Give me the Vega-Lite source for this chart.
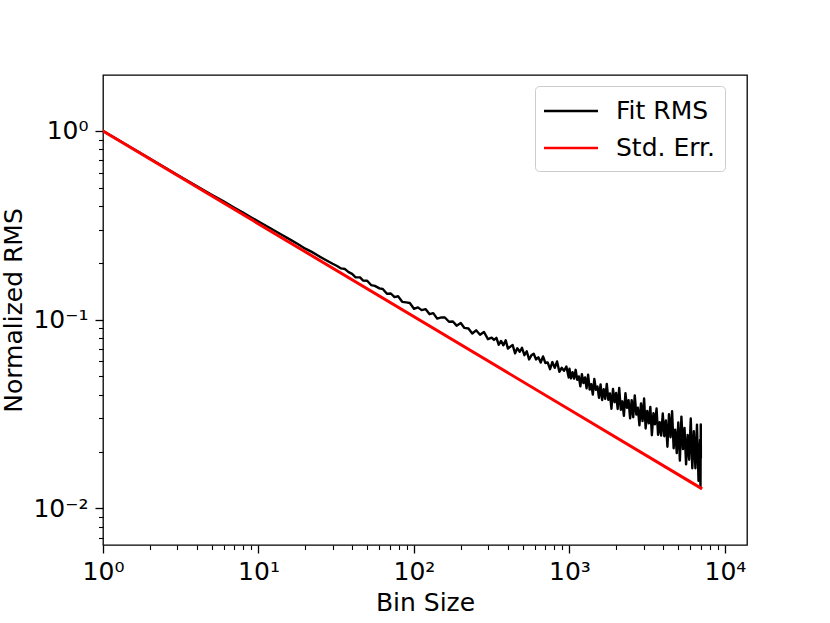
{
  "$schema": "https://vega.github.io/schema/vega-lite/v6.json",
  "width": 644,
  "height": 470,
  "autosize": {"type": "none"},
  "padding": {"left": 103, "top": 75, "right": 83, "bottom": 78},
  "background": "white",
  "config": {
    "view": {"stroke": "#000000", "strokeWidth": 1.3},
    "font": "DejaVu Sans",
    "legend": {
      "strokeColor": "#cccccc",
      "fillColor": "rgba(255,255,255,0.8)",
      "cornerRadius": 4,
      "padding": 10
    }
  },
  "datasets": {
    "fit": [
      {"x": 1, "y": 1.0}, {"x": 2, "y": 0.714}, {"x": 3, "y": 0.586}, {"x": 4, "y": 0.51},
      {"x": 5, "y": 0.459}, {"x": 6, "y": 0.422}, {"x": 7, "y": 0.392}, {"x": 8, "y": 0.368},
      {"x": 9, "y": 0.348}, {"x": 10, "y": 0.331}, {"x": 12, "y": 0.304}, {"x": 14, "y": 0.2825},
      {"x": 16, "y": 0.2655}, {"x": 18, "y": 0.251}, {"x": 20, "y": 0.2377}, {"x": 22, "y": 0.2286},
      {"x": 25, "y": 0.215}, {"x": 28, "y": 0.204}, {"x": 30, "y": 0.1977},
      {"x": 32, "y": 0.1925}, {"x": 34, "y": 0.1868}, {"x": 36, "y": 0.1854}, {"x": 38, "y": 0.1785},
      {"x": 40, "y": 0.1748}, {"x": 42, "y": 0.1679}, {"x": 45, "y": 0.1675}, {"x": 47, "y": 0.1612},
      {"x": 50, "y": 0.1607}, {"x": 53, "y": 0.1525}, {"x": 56, "y": 0.151}, {"x": 60, "y": 0.1465},
      {"x": 63, "y": 0.1454}, {"x": 67, "y": 0.1372}, {"x": 71, "y": 0.1376}, {"x": 75, "y": 0.1316},
      {"x": 79, "y": 0.133}, {"x": 84, "y": 0.1243}, {"x": 89, "y": 0.1234}, {"x": 94, "y": 0.1225},
      {"x": 100, "y": 0.1142}, {"x": 106, "y": 0.1162}, {"x": 112, "y": 0.1123}, {"x": 119, "y": 0.1136},
      {"x": 126, "y": 0.1069}, {"x": 133, "y": 0.1083}, {"x": 141, "y": 0.1013}, {"x": 150, "y": 0.1028},
      {"x": 158, "y": 0.1027}, {"x": 168, "y": 0.0974}, {"x": 178, "y": 0.0977}, {"x": 188, "y": 0.0929},
      {"x": 200, "y": 0.0959}, {"x": 211, "y": 0.0904}, {"x": 224, "y": 0.0897}, {"x": 237, "y": 0.0844},
      {"x": 251, "y": 0.0878}, {"x": 266, "y": 0.0831}, {"x": 282, "y": 0.086}, {"x": 299, "y": 0.0788},
      {"x": 316, "y": 0.0802}, {"x": 327, "y": 0.0781}, {"x": 339, "y": 0.0801}, {"x": 351, "y": 0.0736},
      {"x": 363, "y": 0.0771}, {"x": 376, "y": 0.0731}, {"x": 389, "y": 0.0777}, {"x": 402, "y": 0.0702},
      {"x": 417, "y": 0.0719}, {"x": 431, "y": 0.0734}, {"x": 447, "y": 0.0663}, {"x": 462, "y": 0.0705},
      {"x": 479, "y": 0.0676}, {"x": 495, "y": 0.0709}, {"x": 513, "y": 0.0648}, {"x": 531, "y": 0.068},
      {"x": 550, "y": 0.0615}, {"x": 569, "y": 0.0647}, {"x": 589, "y": 0.066}, {"x": 610, "y": 0.0615},
      {"x": 631, "y": 0.0632}, {"x": 653, "y": 0.0592}, {"x": 676, "y": 0.0638}, {"x": 700, "y": 0.0589},
      {"x": 724, "y": 0.0593}, {"x": 750, "y": 0.0546}, {"x": 776, "y": 0.0596}, {"x": 804, "y": 0.0555},
      {"x": 832, "y": 0.06}, {"x": 861, "y": 0.0529}, {"x": 891, "y": 0.0555}, {"x": 923, "y": 0.0536},
      {"x": 955, "y": 0.0564}, {"x": 989, "y": 0.0494}, {"x": 1000, "y": 0.0549}, {"x": 1023, "y": 0.0488},
      {"x": 1047, "y": 0.0526}, {"x": 1072, "y": 0.0487}, {"x": 1096, "y": 0.0542}, {"x": 1122, "y": 0.048},
      {"x": 1148, "y": 0.05}, {"x": 1175, "y": 0.0443}, {"x": 1202, "y": 0.0514}, {"x": 1230, "y": 0.0461},
      {"x": 1259, "y": 0.0494}, {"x": 1288, "y": 0.0432}, {"x": 1318, "y": 0.0511}, {"x": 1349, "y": 0.0426},
      {"x": 1380, "y": 0.0455}, {"x": 1413, "y": 0.0401}, {"x": 1445, "y": 0.0485}, {"x": 1479, "y": 0.0425},
      {"x": 1514, "y": 0.0442}, {"x": 1549, "y": 0.0385}, {"x": 1585, "y": 0.0454}, {"x": 1622, "y": 0.0375},
      {"x": 1660, "y": 0.0428}, {"x": 1698, "y": 0.038}, {"x": 1738, "y": 0.0456}, {"x": 1778, "y": 0.0376},
      {"x": 1820, "y": 0.0406}, {"x": 1862, "y": 0.0337}, {"x": 1905, "y": 0.0429}, {"x": 1950, "y": 0.0365},
      {"x": 1995, "y": 0.0409}, {"x": 2042, "y": 0.0336}, {"x": 2089, "y": 0.0435}, {"x": 2138, "y": 0.0333},
      {"x": 2188, "y": 0.0369}, {"x": 2239, "y": 0.0309}, {"x": 2291, "y": 0.0408}, {"x": 2344, "y": 0.0341},
      {"x": 2399, "y": 0.0374}, {"x": 2455, "y": 0.03}, {"x": 2512, "y": 0.0374}, {"x": 2570, "y": 0.0304},
      {"x": 2630, "y": 0.0397}, {"x": 2692, "y": 0.0314}, {"x": 2754, "y": 0.0341}, {"x": 2818, "y": 0.0275},
      {"x": 2884, "y": 0.036}, {"x": 2951, "y": 0.029}, {"x": 3020, "y": 0.0382}, {"x": 3090, "y": 0.0265},
      {"x": 3162, "y": 0.0328}, {"x": 3236, "y": 0.0282}, {"x": 3311, "y": 0.0345}, {"x": 3388, "y": 0.0244},
      {"x": 3467, "y": 0.0319}, {"x": 3548, "y": 0.0279}, {"x": 3631, "y": 0.0338}, {"x": 3715, "y": 0.0245},
      {"x": 3802, "y": 0.0286}, {"x": 3890, "y": 0.0243}, {"x": 3981, "y": 0.0318}, {"x": 4074, "y": 0.0241},
      {"x": 4169, "y": 0.0292}, {"x": 4266, "y": 0.0212}, {"x": 4365, "y": 0.0315}, {"x": 4467, "y": 0.0238},
      {"x": 4571, "y": 0.0327}, {"x": 4677, "y": 0.0208}, {"x": 4786, "y": 0.0261}, {"x": 4898, "y": 0.0196},
      {"x": 5012, "y": 0.0285}, {"x": 5129, "y": 0.0179}, {"x": 5248, "y": 0.0306}, {"x": 5370, "y": 0.0206},
      {"x": 5495, "y": 0.0267}, {"x": 5623, "y": 0.0171}, {"x": 5754, "y": 0.0245}, {"x": 5888, "y": 0.0181},
      {"x": 6026, "y": 0.0299}, {"x": 6166, "y": 0.0163}, {"x": 6310, "y": 0.0256}, {"x": 6457, "y": 0.0163},
      {"x": 6607, "y": 0.0277}, {"x": 6761, "y": 0.014}, {"x": 6918, "y": 0.023}, {"x": 6960, "y": 0.0128},
      {"x": 6990, "y": 0.0278}, {"x": 7000, "y": 0.0184}
    ],
    "err": [
      {"x": 1, "y": 1.0},
      {"x": 7000, "y": 0.0128}
    ]
  },
  "resolve": {"axis": {"x": "independent", "y": "independent"}},
  "layer": [
    {
      "data": {"name": "fit"},
      "mark": {"type": "line", "strokeWidth": 2.4, "strokeJoin": "round", "clip": true},
      "encoding": {
        "x": {
          "field": "x",
          "type": "quantitative",
          "scale": {"type": "log", "domain": [1, 13860], "nice": false},
          "axis": {
            "orient": "bottom",
            "values": [1, 10, 100, 1000, 10000],
            "labelExpr": "datum.value == 1 ? '10⁰' : datum.value == 10 ? '10¹' : datum.value == 100 ? '10²' : datum.value == 1000 ? '10³' : '10⁴'",
            "domain": false,
            "grid": false,
            "tickSize": 8,
            "tickWidth": 1.3,
            "tickColor": "#000000",
            "labelFont": "DejaVu Sans",
            "labelFontSize": 25,
            "labelColor": "#000000",
            "labelBaseline": "alphabetic",
            "labelPadding": 26,
            "labelFlush": false,
            "labelOverlap": false,
            "title": "Bin Size",
            "titleFont": "DejaVu Sans",
            "titleFontSize": 25,
            "titleFontWeight": "normal",
            "titleColor": "#000000",
            "titleBaseline": "alphabetic",
            "titleY": 65
          }
        },
        "y": {
          "field": "y",
          "type": "quantitative",
          "scale": {"type": "log", "domain": [0.00639, 1.98], "nice": false},
          "axis": {
            "orient": "left",
            "values": [0.01, 0.1, 1],
            "labelExpr": "datum.value == 1 ? '10⁰' : datum.value == 0.1 ? '10⁻¹' : '10⁻²'",
            "domain": false,
            "grid": false,
            "tickSize": 8,
            "tickWidth": 1.3,
            "tickColor": "#000000",
            "labelFont": "DejaVu Sans",
            "labelFontSize": 25,
            "labelColor": "#000000",
            "labelBaseline": "middle",
            "labelPadding": 7,
            "labelFlush": false,
            "labelOverlap": false,
            "title": "Normalized RMS",
            "titleFont": "DejaVu Sans",
            "titleFontSize": 25,
            "titleFontWeight": "normal",
            "titleColor": "#000000",
            "titleAngle": 270,
            "titleAlign": "center",
            "titleBaseline": "alphabetic",
            "titleX": -82,
            "titleY": 235
          }
        },
        "color": {
          "datum": "Fit RMS",
          "type": "nominal",
          "scale": {"domain": ["Fit RMS", "Std. Err."], "range": ["#000000", "#ff0000"]},
          "legend": {
            "orient": "none",
            "legendX": 432,
            "legendY": 11,
            "title": null,
            "symbolType": "M-2,0H2",
            "symbolSize": 729,
            "symbolStrokeWidth": 2.5,
            "symbolOffset": 11,
            "labelOffset": 30,
            "labelFont": "DejaVu Sans",
            "labelFontSize": 25,
            "labelColor": "#000000",
            "labelLimit": 300,
            "rowPadding": 9
          }
        }
      }
    },
    {
      "data": {"name": "err"},
      "mark": {"type": "line", "strokeWidth": 3, "strokeCap": "square", "clip": true},
      "encoding": {
        "x": {
          "field": "x",
          "type": "quantitative",
          "scale": {"type": "log", "domain": [1, 13860], "nice": false},
          "axis": {
            "orient": "bottom",
            "values": [2, 3, 4, 5, 6, 7, 8, 9, 20, 30, 40, 50, 60, 70, 80, 90, 200, 300, 400, 500, 600, 700, 800, 900, 2000, 3000, 4000, 5000, 6000, 7000, 8000, 9000],
            "labels": false,
            "domain": false,
            "grid": false,
            "tickSize": 4.5,
            "tickWidth": 1.1,
            "tickColor": "#000000",
            "title": null
          }
        },
        "y": {
          "field": "y",
          "type": "quantitative",
          "scale": {"type": "log", "domain": [0.00639, 1.98], "nice": false},
          "axis": {
            "orient": "left",
            "values": [0.007, 0.008, 0.009, 0.02, 0.03, 0.04, 0.05, 0.06, 0.07, 0.08, 0.09, 0.2, 0.3, 0.4, 0.5, 0.6, 0.7, 0.8, 0.9],
            "labels": false,
            "domain": false,
            "grid": false,
            "tickSize": 4.5,
            "tickWidth": 1.1,
            "tickColor": "#000000",
            "title": null
          }
        },
        "color": {"datum": "Std. Err.", "type": "nominal"}
      }
    }
  ]
}
